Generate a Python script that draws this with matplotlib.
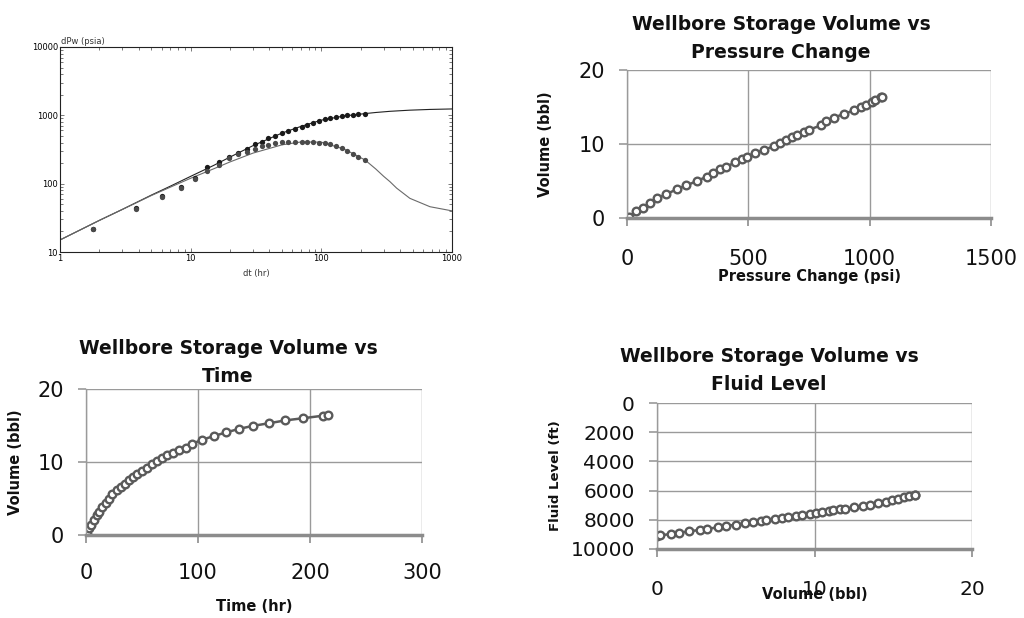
import matplotlib
matplotlib.use("Agg")
import matplotlib.pyplot as plt
from matplotlib.ticker import FixedLocator, NullFormatter, LogLocator

# ---------------- data ----------------
# log-log diagnostic plot
lp_time = [1.8, 3.8, 6.0, 8.4, 10.8, 13.4, 16.5, 19.7, 23.1, 26.8, 31, 35, 39, 44, 50,
           56, 63, 71, 78, 86, 96, 107, 117, 129, 144, 158, 175, 191, 216]
lp_dp = [22, 44, 66, 90, 122, 178, 206, 248, 280, 320, 375, 412, 462, 499, 547,
         591, 639, 684, 731, 782, 836, 885, 907, 948, 980, 1003, 1020, 1044, 1054]
lp_deriv = [22, 43, 64, 87, 116, 152, 190, 235, 270, 295, 320, 350, 370, 390, 405,
            412, 412, 408, 405, 405, 400, 392, 380, 360, 330, 305, 270, 245, 222]
model_t = [1, 2, 3, 5, 7, 10, 15, 20, 30, 50, 70, 100, 150, 216, 260, 300, 335, 377, 476, 678, 1000]
model_dp = [15, 29, 42, 68, 92, 128, 185, 245, 360, 550, 690, 850, 980, 1060, 1100, 1125,
            1145, 1160, 1190, 1220, 1240]
model_deriv = [15, 29, 42, 67, 89, 120, 165, 208, 280, 370, 408, 405, 320, 222, 165, 128,
               107, 86, 61, 46, 40]

# storage data
time_hr = [0, 0.6, 2.7, 4.8, 7.1, 9.5, 11.6, 14.6, 17.6, 20.5, 23.5, 27.4, 31, 34.5, 38.4,
           42.3, 45.8, 50.3, 54.7, 59, 63.7, 68, 72.6, 78, 83, 89, 95, 103.8, 114, 125,
           137, 149, 163, 178, 194, 212, 216]
volume_bbl = [0, 0.2, 0.9, 1.4, 2.05, 2.7, 3.2, 3.9, 4.4, 5.0, 5.6, 6.1, 6.6, 6.95, 7.5,
              7.95, 8.3, 8.8, 9.2, 9.7, 10.1, 10.5, 10.9, 11.2, 11.6, 11.95, 12.5, 13.05,
              13.55, 14.05, 14.55, 14.95, 15.3, 15.7, 16.0, 16.35, 16.4]
pressure_change_psi = [0, 8, 38, 64, 94, 125, 162, 205, 245, 288, 330, 353, 384, 410, 446,
                       472, 493, 529, 564, 604, 631, 654, 679, 702, 729, 752, 798, 821,
                       851, 893, 936, 966, 986, 1008, 1024, 1048, 1052]
fluid_level_ft = [9100, 9070, 8965, 8890, 8790, 8695, 8620, 8515, 8430, 8330, 8240, 8165,
                  8090, 8040, 7950, 7880, 7820, 7735, 7665, 7575, 7505, 7450, 7395, 7350,
                  7290, 7240, 7155, 7070, 6970, 6870, 6750, 6650, 6560, 6460, 6380, 6290, 6280]

title_prefix = "Wellbore Storage Volume vs"

# ---------------- figure ----------------
W, H = 1024, 618
fig = plt.figure(figsize=(W / 100, H / 100), dpi=100)
fig.patch.set_facecolor("white")


def ax_px(left, top, right, bottom):
    return fig.add_axes([left / W, 1 - bottom / H, (right - left) / W, (bottom - top) / H])


# ---- top-left log-log plot ----
ax0 = ax_px(60, 47, 452, 252)
ax0.plot(model_t, model_dp, color="#222222", lw=0.8)
ax0.plot(model_t, model_deriv, color="#6a6a6a", lw=0.8)
ax0.plot(lp_time, lp_dp, "o", color="#1a1a1a", ms=3.8, mec="none")
ax0.plot(lp_time, lp_deriv, "o", color="#4a4a4a", ms=3.8, mec="none")
ax0.set_xscale("log")
ax0.set_yscale("log")
ax0.set_xlim(1, 1000)
ax0.set_ylim(10, 10000)
ax0.xaxis.set_major_locator(FixedLocator([1, 10, 100, 1000]))
ax0.yaxis.set_major_locator(FixedLocator([10, 100, 1000, 10000]))
ax0.xaxis.set_minor_locator(LogLocator(base=10, subs=range(2, 10)))
ax0.yaxis.set_minor_locator(LogLocator(base=10, subs=range(2, 10)))
ax0.xaxis.set_minor_formatter(NullFormatter())
ax0.yaxis.set_minor_formatter(NullFormatter())
ax0.set_xticklabels(["1", "10", "100", "1000"])
ax0.set_yticklabels(["10", "100", "1000", "10000"])
ax0.tick_params(which="both", direction="in", top=True, right=True, labelsize=6,
                color="#444444", width=0.5, pad=1.5)
ax0.tick_params(which="major", length=3)
ax0.tick_params(which="minor", length=2)
for s in ax0.spines.values():
    s.set_linewidth(0.8)
    s.set_color("#222222")
ax0.text(0.002, 1.003, "dPw (psia)", transform=ax0.transAxes, fontsize=6,
         ha="left", va="bottom", color="#333333")
ax0.set_xlabel("dt (hr)", fontsize=6, labelpad=4, color="#333333")

# ---- common style for excel-like plots ----
TFONT = dict(fontsize=13.5, fontweight="bold", color="#111111")
LFONT = dict(fontsize=10.5, fontweight="bold", color="#111111")
GRID = "#9a9a9a"
MCOL = "#5a5a5a"


def excel_axes(ax, xlim, xticks, ylim, yticks, invert=False, xpad=18):
    ax.set_xlim(*xlim)
    ax.set_ylim(*ylim)
    ax.set_xticks(xticks)
    ax.set_yticks(yticks)
    if invert:
        ax.invert_yaxis()
    ax.grid(True, color=GRID, lw=1.0)
    ax.set_axisbelow(True)
    for k in ("top", "right"):
        ax.spines[k].set_visible(False)
    ax.spines["left"].set_color(GRID)
    ax.spines["left"].set_linewidth(1.0)
    ax.spines["bottom"].set_color("#8c8c8c")
    ax.spines["bottom"].set_linewidth(2.5)
    ax.tick_params(axis="both", labelsize=15, colors="#111111", length=6, width=1.2)
    ax.tick_params(axis="x", color="#8c8c8c", pad=xpad)
    ax.tick_params(axis="y", color=GRID, pad=10)


def series(ax, x, y):
    ax.plot(x, y, "-o", color=MCOL, lw=1.8, ms=5.5, mfc="white", mec=MCOL, mew=1.7)


# ---- top-right: volume vs pressure change ----
ax1 = ax_px(627, 70, 991, 218)
excel_axes(ax1, (0, 1500), [0, 500, 1000, 1500], (0, 20), [0, 10, 20], xpad=16)
series(ax1, pressure_change_psi, volume_bbl)
fig.text(781 / W, 1 - 38 / H, title_prefix + "\nPressure Change", ha="center", va="center",
         linespacing=1.6, **TFONT)
ax1.set_xlabel("Pressure Change (psi)", labelpad=0, **LFONT)
ax1.set_ylabel("Volume (bbl)", labelpad=18, **LFONT)

# ---- bottom-left: volume vs time ----
ax2 = ax_px(86, 389, 422, 535)
excel_axes(ax2, (0, 300), [0, 100, 200, 300], (0, 20), [0, 10, 20], xpad=14)
series(ax2, time_hr, volume_bbl)
fig.text(228 / W, 1 - 362 / H, title_prefix + "\nTime", ha="center", va="center",
         linespacing=1.6, **TFONT)
ax2.set_xlabel("Time (hr)", labelpad=12, **LFONT)
ax2.set_ylabel("Volume (bbl)", labelpad=10, **LFONT)

# ---- bottom-right: fluid level vs volume ----
ax3 = ax_px(657, 403, 972, 549)
excel_axes(ax3, (0, 20), [0, 10, 20], (0, 10000), [0, 2000, 4000, 6000, 8000, 10000],
           invert=True, xpad=16)
ax3.tick_params(axis="both", labelsize=14.5)
series(ax3, volume_bbl, fluid_level_ft)
fig.text(769 / W, 1 - 371 / H, title_prefix + "\nFluid Level", ha="center", va="center",
         linespacing=1.6, **TFONT)
ax3.set_xlabel("Volume (bbl)", labelpad=-8, **LFONT)
ax3.set_ylabel("Fluid Level (ft)", labelpad=6, fontsize=9.5, fontweight="bold", color="#111111")

fig.savefig("out.png", dpi=100, facecolor="white")
